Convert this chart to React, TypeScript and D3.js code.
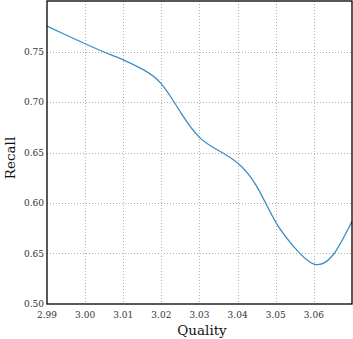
import * as d3 from 'd3'
import { useEffect, useRef } from 'react'

const width = 353, height = 339
const margin = { top: 1, right: 1, bottom: 35, left: 47 }

// curve
const quality = [2.990, 2.995, 3.000, 3.005, 3.010, 3.015, 3.020, 3.025, 3.030, 3.035, 3.040, 3.045, 3.050, 3.055, 3.060, 3.065, 3.070]
const recall = [0.7752, 0.7663, 0.7577, 0.7495, 0.7418, 0.7325, 0.7180, 0.6900, 0.6650, 0.6520, 0.6395, 0.6165, 0.5810, 0.5555, 0.5395, 0.5485, 0.5820]

const xTicks = [2.99, 3.00, 3.01, 3.02, 3.03, 3.04, 3.05, 3.06]
const xTickLabels = ['2.99', '3.00', '3.01', '3.02', '3.03', '3.04', '3.05', '3.06']
const yTicks = [0.50, 0.55, 0.60, 0.65, 0.70, 0.75]
const yTickLabels = ['0.50', '0.65', '0.60', '0.65', '0.70', '0.75']

const font = '"DejaVu Serif", serif'

const chart = (svgNode: SVGSVGElement) => {
  const svg = d3.select(svgNode)
  svg.selectAll('*').remove()

  const x = d3.scaleLinear().domain([2.99, 3.07]).range([margin.left, width - margin.right])
  const y = d3.scaleLinear().domain([0.50, 0.80]).range([height - margin.bottom, margin.top])

  // grid
  const grid = svg.append('g')
    .attr('stroke', '#b0b0b0')
    .attr('stroke-width', 1)
    .attr('stroke-dasharray', '1,2')
  grid.selectAll('line.vx')
    .data(xTicks.slice(1))
    .join('line')
      .attr('x1', d => Math.round(x(d)) + 0.5)
      .attr('x2', d => Math.round(x(d)) + 0.5)
      .attr('y1', y(0.80))
      .attr('y2', y(0.50))
  grid.selectAll('line.hy')
    .data(yTicks.slice(1))
    .join('line')
      .attr('x1', x(2.99))
      .attr('x2', x(3.07))
      .attr('y1', d => Math.round(y(d)) + 0.5)
      .attr('y2', d => Math.round(y(d)) + 0.5)

  // curve
  const pts = quality.map((q, i) => [q, recall[i]] as [number, number])
  svg.append('path')
    .datum(pts)
    .attr('fill', 'none')
    .attr('stroke', '#3b8ec4')
    .attr('stroke-width', 1.3)
    .attr('d', d3.line<[number, number]>()
      .x(d => x(d[0]))
      .y(d => y(d[1]))
      .curve(d3.curveNatural))

  // frame
  svg.append('rect')
    .attr('x', x(2.99))
    .attr('y', y(0.80))
    .attr('width', x(3.07) - x(2.99))
    .attr('height', y(0.50) - y(0.80))
    .attr('fill', 'none')
    .attr('stroke', '#000')
    .attr('stroke-width', 1.3)

  // tick labels
  const labels = svg.append('g')
    .attr('font-family', font)
    .attr('font-size', 9)
    .attr('fill', '#333')
  labels.selectAll('text.x')
    .data(xTicks)
    .join('text')
      .attr('x', d => x(d))
      .attr('y', y(0.50) + 14)
      .attr('text-anchor', 'middle')
      .text((d, i) => xTickLabels[i])
  labels.append('g').selectAll('text')
    .data(yTicks)
    .join('text')
      .attr('x', x(2.99) - 3)
      .attr('y', d => y(d))
      .attr('dy', '0.35em')
      .attr('text-anchor', 'end')
      .text((d, i) => yTickLabels[i])

  // axis titles
  svg.append('text')
    .attr('x', 202)
    .attr('y', height - 4)
    .attr('text-anchor', 'middle')
    .attr('font-family', font)
    .attr('font-size', 13.5)
    .attr('fill', '#111')
    .text('Quality')
  svg.append('text')
    .attr('transform', `translate(15,158) rotate(-90)`)
    .attr('text-anchor', 'middle')
    .attr('font-family', font)
    .attr('font-size', 13.5)
    .attr('fill', '#111')
    .text('Recall')
}

export default function App() {
  const svg = useRef<SVGSVGElement>(null)
  useEffect(() => {
    if (svg.current) chart(svg.current)
  }, [])
  return (
    <svg
      ref={svg}
      width={width}
      height={height}
      style={{ position: 'absolute', left: 0, top: 0, background: '#fff' }}
    />
  )
}
